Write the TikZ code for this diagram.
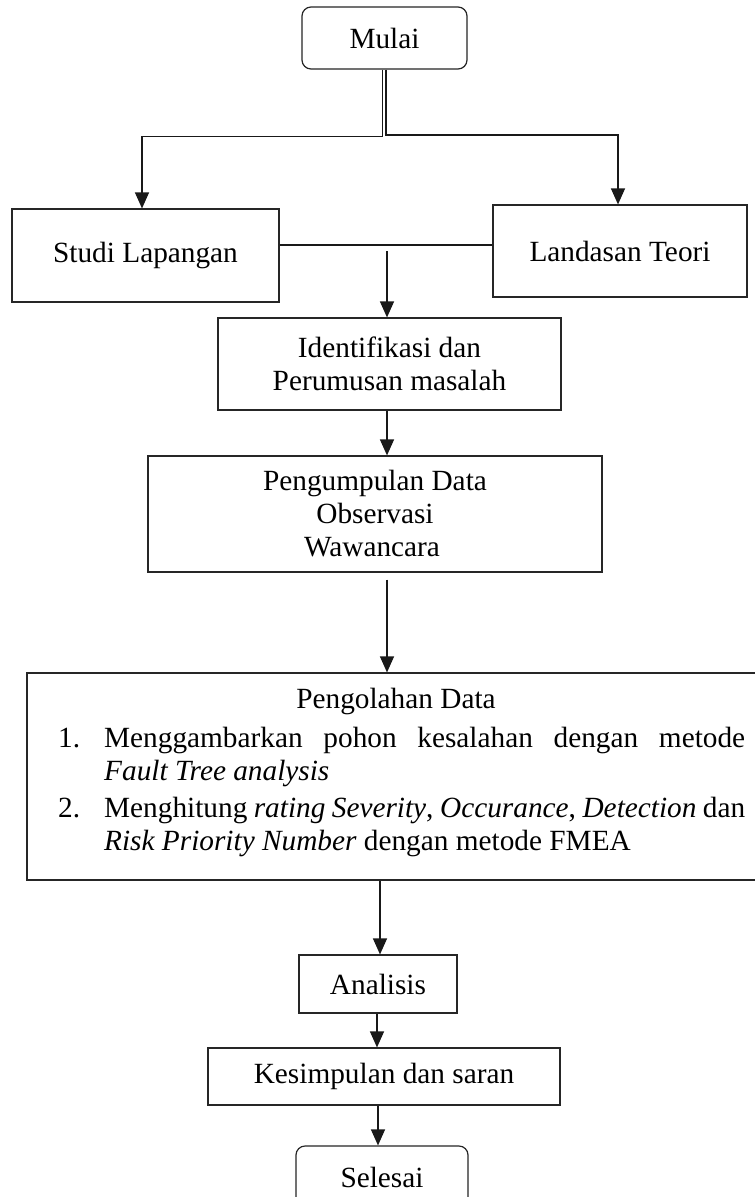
\documentclass[tikz,border=0pt]{standalone}
\usepackage{fontspec}
\setmainfont{Liberation Serif}
\usetikzlibrary{arrows.meta}
\tikzset{
  x=1pt, y=1pt,
  box/.style={draw=black!85, line width=1.2pt, rectangle, inner sep=0pt,
    font=\fontsize{29.3}{33}\selectfont, align=center},
  term/.style={box, rounded corners=9pt},
  conn/.style={draw=black!90, line width=1.3pt},
  arr/.style={conn, -{Triangle[width=14pt,length=16pt]}},
  lbl/.style={inner sep=0pt, font=\fontsize{29.3}{33}\selectfont, align=center}
}
\begin{document}
\begin{tikzpicture}
\useasboundingbox (0,0) rectangle (755,-1197);
\clip (0,0) rectangle (755,-1197);
\fill[white] (0,0) rectangle (755,-1197);

% axis helpers
\coordinate (xl) at (142,0);
\coordinate (xr) at (618,0);
\coordinate (xc) at (387,0);
\coordinate (xo) at (380,0);
\coordinate (xa) at (377,0);
\coordinate (xs) at (378,0);

\node[term, minimum width=165pt, minimum height=62pt] (mulai) at (384.5,-38) {Mulai};
\node[box, minimum width=267pt, minimum height=93pt] (studi) at (145.5,-255.5) {Studi Lapangan};
\node[box, minimum width=254pt, minimum height=92pt] (landasan) at (620,-251) {Landasan Teori};
\node[box, minimum width=343pt, minimum height=92pt] (ident) at (389.5,-364) {Identifikasi dan\\Perumusan masalah};
\node[box, minimum width=454pt, minimum height=116pt] (kumpul) at (375,-514) {Pengumpulan Data\\Observasi\hspace*{20pt}\\Wawancara\hspace*{6pt}};
\node[box, minimum width=738pt, minimum height=207pt] (olah) at (396,-776.5) {};
\node[lbl] (olahtitle) at (396,-701) {Pengolahan Data};
\node[anchor=base west, inner sep=0pt] (olahlist) at (58,-747) {\begin{minipage}[t]{687pt}\fontsize{29.3}{33}\selectfont
\setlength{\parindent}{0pt}\setlength{\parskip}{4pt}\emergencystretch=10pt
\hangindent=46pt\hangafter=1 \makebox[46pt][l]{1.}Menggambarkan pohon kesalahan dengan metode\linebreak \textit{Fault Tree analysis}\par
\hangindent=46pt\hangafter=1 \makebox[46pt][l]{2.}Menghitung \textit{rating Severity}, \textit{Occurance}, \textit{Detection} dan\linebreak \textit{Risk Priority Number} dengan metode FMEA\par
\end{minipage}};
\node[box, minimum width=158pt, minimum height=58pt] (analisis) at (378,-984) {Analisis};
\node[box, minimum width=352pt, minimum height=57pt] (simpul) at (384,-1076.5) {Kesimpulan dan saran};
\node[term, minimum width=172pt, minimum height=62pt] (selesai) at (382,-1177) {Selesai};

% connectors from Mulai (double line)
\draw[arr] ([xshift=-1.9pt]mulai.south) |- ([yshift=72pt]studi.north -| xl) -- (studi.north -| xl);
\draw[arr] ([xshift=1.5pt]mulai.south) |- ([yshift=69.5pt]landasan.north -| xr) -- (landasan.north -| xr);

% link between Studi and Landasan
\draw[conn] ([yshift=10.5pt]studi.east) -- ([yshift=10.5pt]studi.east -| landasan.west);
\coordinate (mid) at (387,-251);
\draw[arr] (mid) -- (ident.north -| xc);

\draw[arr] (ident.south -| xc) -- (kumpul.north -| xc);
\draw[arr, shorten <=7pt] (kumpul.south -| xc) -- (olah.north -| xc);
\draw[arr] (olah.south -| xo) -- (analisis.north -| xo);
\draw[arr] (analisis.south -| xa) -- (simpul.north -| xa);
\draw[arr] (simpul.south -| xs) -- (selesai.north -| xs);
\end{tikzpicture}
\end{document}
